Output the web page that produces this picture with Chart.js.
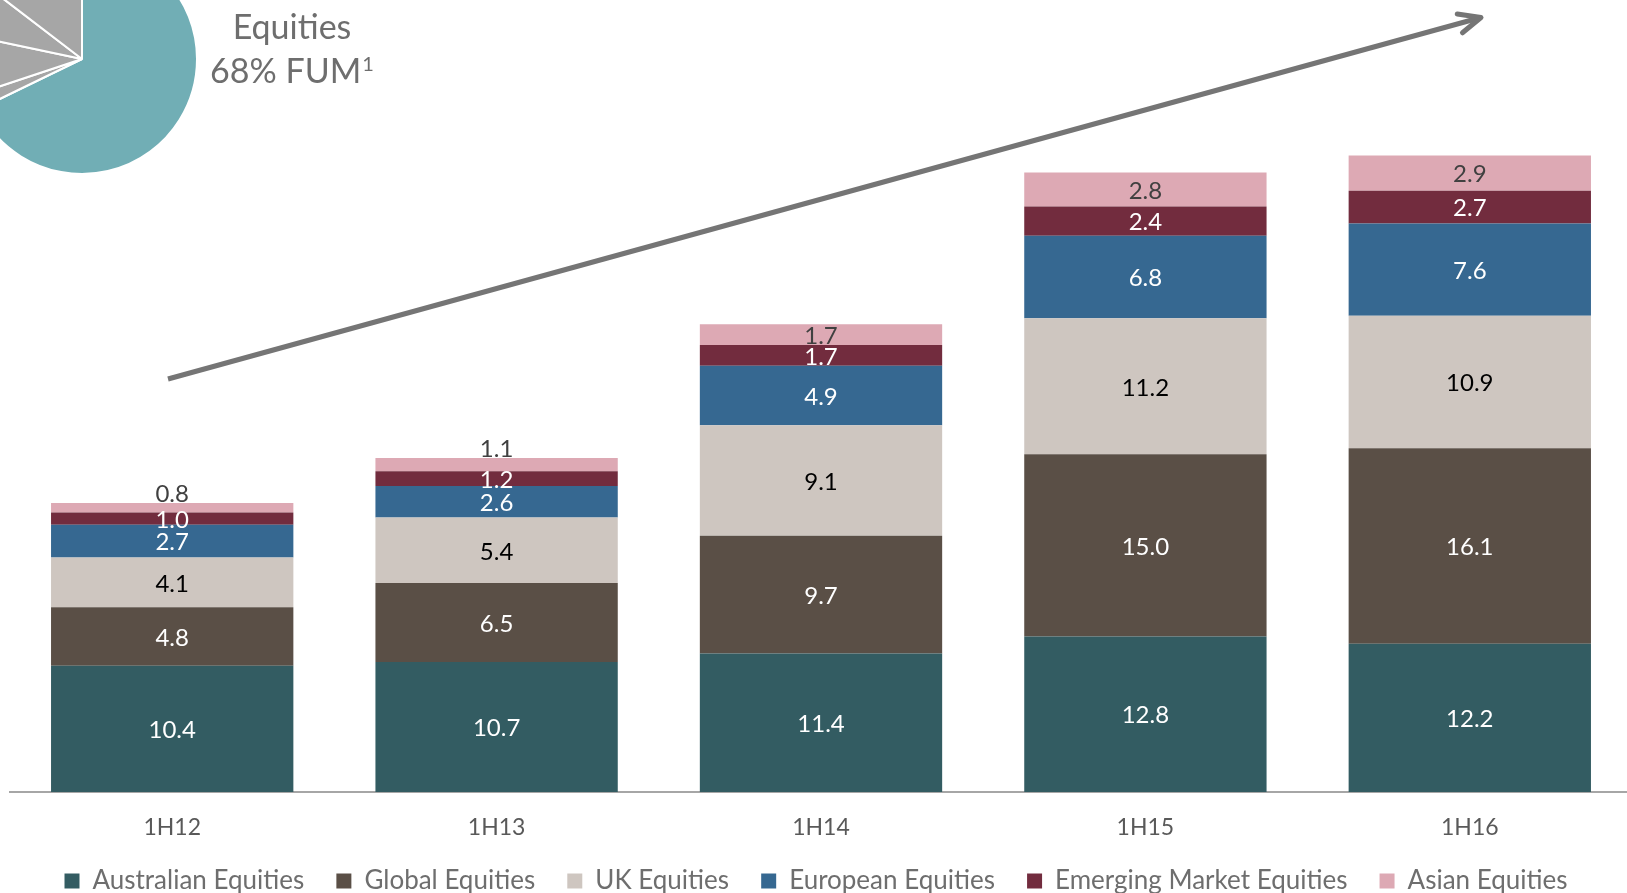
<!DOCTYPE html>
<html>
<head>
<meta charset="utf-8">
<script src="https://cdn.jsdelivr.net/npm/chart.js@4.4.1/dist/chart.umd.min.js"></script>
<style>
html, body { margin: 0; padding: 0; background: #ffffff; width: 1627px; height: 893px; overflow: hidden; }
#wrap { position: relative; width: 1627px; height: 893px; overflow: hidden; }
#bar { position: absolute; left: 0; top: 0; }
#pie { position: absolute; left: -38px; top: -61px; }
#title { position: absolute; left: 192px; top: 4px; width: 200px; text-align: center;
  font-family: Lato, "Open Sans", sans-serif; font-size: 34px; line-height: 44px; color: #6e6e6e; white-space: nowrap; }
#title .sup { font-size: 20px; position: relative; top: -12px; margin-left: 1px; }
</style>
</head>
<body>
<div id="wrap">
  <canvas id="bar" width="1632" height="893"></canvas>
  <canvas id="pie" width="240" height="240"></canvas>
  <div id="title">Equities<br>68% FUM<span class="sup">1</span></div>
</div>
<script>
// ---- data ----
const categories = ['1H12', '1H13', '1H14', '1H15', '1H16'];
const seriesNames = ['Australian Equities', 'Global Equities', 'UK Equities', 'European Equities', 'Emerging Market Equities', 'Asian Equities'];
const australianEquities = [10.4, 10.7, 11.4, 12.8, 12.2];
const globalEquities = [4.8, 6.5, 9.7, 15.0, 16.1];
const ukEquities = [4.1, 5.4, 9.1, 11.2, 10.9];
const europeanEquities = [2.7, 2.6, 4.9, 6.8, 7.6];
const emergingMarketEquities = [1.0, 1.2, 1.7, 2.4, 2.7];
const asianEquities = [0.8, 1.1, 1.7, 2.8, 2.9];
const fumSplitLabels = ['Equities', 'Other A', 'Other B', 'Other C', 'Other D'];
const fumSplitValues = [67.8, 2.1, 8.4, 7.1, 14.6];

// ---- styles ----
const seriesColors = ['#335C62', '#5A4F46', '#CEC6C0', '#366891', '#722C3E', '#DDA9B4'];
const labelColors = ['#ffffff', '#ffffff', '#000000', '#ffffff', '#ffffff', '#404040'];
const FONT = 'Lato, "Open Sans", sans-serif';
const LEGEND_FONT = 26;
const LEGEND_BOX = 15;
const CANVAS_W = 1632;
const CANVAS_H = 893;
const PLOT_BOTTOM = 792;
const AXIS_BOTTOM = 842;
const LEGEND_TEXT_Y = 881;
const LEGEND_SPAN = 1503;

const seriesValues = [australianEquities, globalEquities, ukEquities, europeanEquities, emergingMarketEquities, asianEquities];

// legend padding so the legend spans the same width as the reference
const mctx = document.createElement('canvas').getContext('2d');
mctx.font = LEGEND_FONT + 'px ' + FONT;
const textSum = seriesNames.reduce((s, n) => s + mctx.measureText(n).width, 0);
const legendPad = Math.max(10, (LEGEND_SPAN - 6 * (LEGEND_BOX + LEGEND_FONT / 2) - textSum) / 5);

const valueLabels = {
  id: 'valueLabels',
  afterDatasetsDraw(chart) {
    const ctx = chart.ctx;
    ctx.save();
    ctx.font = '24px ' + FONT;
    ctx.textAlign = 'center';
    ctx.textBaseline = 'middle';
    chart.data.datasets.forEach((ds, di) => {
      const meta = chart.getDatasetMeta(di);
      meta.data.forEach((el, i) => {
        const p = el.getProps(['x', 'y', 'base'], true);
        const h = p.base - p.y;
        let ly = (p.y + p.base) / 2;
        if (ds.labelAboveWhenSmall && h < 16) ly = p.y - 10;
        ctx.fillStyle = ds.labelColor;
        ctx.fillText(ds.data[i].toFixed(1), p.x, ly + 1.5);
      });
    });
    ctx.restore();
  }
};

// keep the legend text at the reference height/centre while the axis box keeps its labels
const legendPlacer = {
  id: 'legendPlacer',
  afterLayout(chart) {
    const lg = chart.legend;
    if (!lg) return;
    const top = LEGEND_TEXT_Y - legendPad - LEGEND_FONT / 2;
    lg.top = top;
    lg.bottom = CANVAS_H;
    lg.height = CANVAS_H - top;
    lg.left = 0;
    lg.right = CANVAS_W;
    lg.width = CANVAS_W;
  }
};

const trendArrow = {
  id: 'trendArrow',
  afterDraw(chart) {
    const ctx = chart.ctx;
    const x0 = 168, y0 = 379, x1 = 1481, y1 = 17.5;
    const ang = Math.atan2(y1 - y0, x1 - x0);
    ctx.save();
    ctx.strokeStyle = '#757575';
    ctx.lineWidth = 5;
    ctx.lineCap = 'butt';
    ctx.beginPath();
    ctx.moveTo(x0, y0);
    ctx.lineTo(x1 - 2 * Math.cos(ang), y1 - 2 * Math.sin(ang));
    ctx.stroke();
    ctx.lineCap = 'round';
    ctx.lineJoin = 'round';
    const len = 24, spread = 24 * Math.PI / 180;
    ctx.beginPath();
    ctx.moveTo(x1 - len * Math.cos(ang - spread), y1 - len * Math.sin(ang - spread));
    ctx.lineTo(x1, y1);
    ctx.lineTo(x1 - len * Math.cos(ang + spread), y1 - len * Math.sin(ang + spread));
    ctx.stroke();
    ctx.restore();
  }
};

new Chart(document.getElementById('bar'), {
  type: 'bar',
  data: {
    labels: categories,
    datasets: seriesNames.map((name, k) => ({
      label: name,
      data: seriesValues[k],
      backgroundColor: seriesColors[k],
      borderWidth: 0,
      labelColor: labelColors[k],
      labelAboveWhenSmall: k === seriesNames.length - 1,
      barPercentage: 0.747,
      categoryPercentage: 1.0
    }))
  },
  options: {
    responsive: false,
    animation: false,
    events: [],
    layout: { padding: { left: 10, right: 0, top: 0, bottom: 0 } },
    scales: {
      x: {
        stacked: true,
        grid: { display: false, drawTicks: false },
        border: { display: true, color: '#a6a6a6', width: 2 },
        ticks: { color: '#595959', font: { family: FONT, size: 23 }, padding: 22 },
        afterFit: (scale) => { scale.height = AXIS_BOTTOM - PLOT_BOTTOM; }
      },
      y: { stacked: true, display: false, min: 0, max: 65.2 }
    },
    plugins: {
      tooltip: { enabled: false },
      legend: {
        position: 'bottom',
        maxHeight: CANVAS_H - AXIS_BOTTOM,
        labels: {
          boxWidth: LEGEND_BOX, boxHeight: LEGEND_BOX,
          padding: legendPad,
          color: '#6e6e6e',
          font: { family: FONT, size: LEGEND_FONT }
        }
      }
    }
  },
  plugins: [valueLabels, legendPlacer, trendArrow]
});

new Chart(document.getElementById('pie'), {
  type: 'pie',
  data: {
    labels: fumSplitLabels,
    datasets: [{
      data: fumSplitValues,
      backgroundColor: ['#71AEB5', '#A6A6A6', '#A6A6A6', '#A6A6A6', '#A6A6A6'],
      borderColor: '#ffffff',
      borderWidth: 2
    }]
  },
  options: {
    responsive: false,
    animation: false,
    events: [],
    radius: 115,
    layout: { padding: 0 },
    plugins: { legend: { display: false }, tooltip: { enabled: false } }
  }
});
</script>
</body>
</html>
